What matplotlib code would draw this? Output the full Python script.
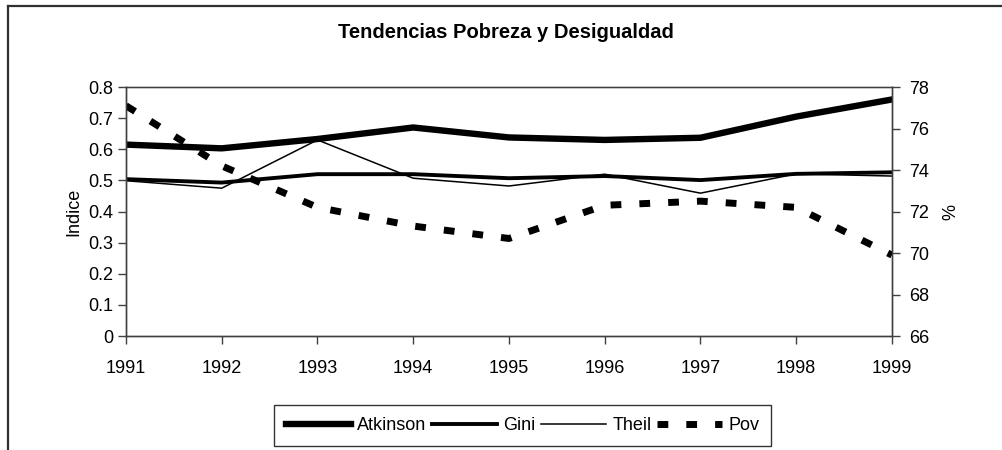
import matplotlib
matplotlib.use("Agg")
import matplotlib.pyplot as plt
from matplotlib.lines import Line2D

plt.rcParams['font.family'] = ['Liberation Sans', 'DejaVu Sans']
plt.rcParams['font.size'] = 13

# datos
years = [1991, 1992, 1993, 1994, 1995, 1996, 1997, 1998, 1999]
atkinson = [0.615, 0.603, 0.633, 0.670, 0.638, 0.630, 0.637, 0.705, 0.760]
gini = [0.504, 0.493, 0.520, 0.520, 0.507, 0.514, 0.501, 0.521, 0.526]
theil = [0.499, 0.475, 0.630, 0.507, 0.482, 0.520, 0.459, 0.521, 0.514]
pov = [77.1, 74.2, 72.2, 71.3, 70.7, 72.3, 72.5, 72.2, 69.9]

fig = plt.figure(figsize=(10.03, 4.5), dpi=100)
ax = fig.add_axes([0.1256, 0.2533, 0.7637, 0.5533])
ax2 = ax.twinx()

l1, = ax.plot(years, atkinson, color='black', lw=4.6, label='Atkinson')
l2, = ax.plot(years, gini, color='black', lw=2.8, label='Gini')
l3, = ax.plot(years, theil, color='black', lw=1.1, label='Theil')
l4, = ax2.plot(years, pov, color='black', lw=5, linestyle=(0, (1.55, 2.6)),
               dash_capstyle='butt', label='Pov')

ax.set_xlim(1991, 1999)
ax.set_ylim(0, 0.8)
ax.set_yticks([i / 10 for i in range(9)])
ax.set_yticklabels(['0', '0.1', '0.2', '0.3', '0.4', '0.5', '0.6', '0.7', '0.8'])
ax.set_xticks(years)
ax2.set_ylim(66, 78)
ax2.set_yticks(range(66, 79, 2))

ax.set_ylabel('Indice', labelpad=4)
ax2.set_ylabel('%', labelpad=10)

for a in (ax, ax2):
    a.tick_params(direction='out', length=6, width=1, color='#404040', pad=3)
    for s in a.spines.values():
        s.set_color('#404040')
        s.set_linewidth(1)
ax.spines['top'].set_color('#808080')
ax.tick_params(axis='x', pad=11)
ax2.tick_params(axis='y', pad=6)

fig.text(0.504, 0.927, 'Tendencias Pobreza y Desigualdad', ha='center', va='center',
         fontsize=14.5, fontweight='bold')

leg = fig.legend(handles=[l1, l2, l3, l4], loc='center', bbox_to_anchor=(0.521, 0.0544),
                 ncol=4, frameon=True, fancybox=False, handlelength=3.6, handletextpad=0.35,
                 columnspacing=0.3, borderpad=0.65, borderaxespad=0, fontsize=13)
leg.get_frame().set_edgecolor('black')
leg.get_frame().set_linewidth(1)

# marco exterior (cortado a la derecha y abajo)
fig.add_artist(Line2D([0.0075, 0.0075], [0, 0.987], transform=fig.transFigure,
                      color='#303030', lw=1.6))
fig.add_artist(Line2D([0.0075, 1.0], [0.987, 0.987], transform=fig.transFigure,
                      color='#303030', lw=1.6))

fig.savefig('out.png', dpi=100)
